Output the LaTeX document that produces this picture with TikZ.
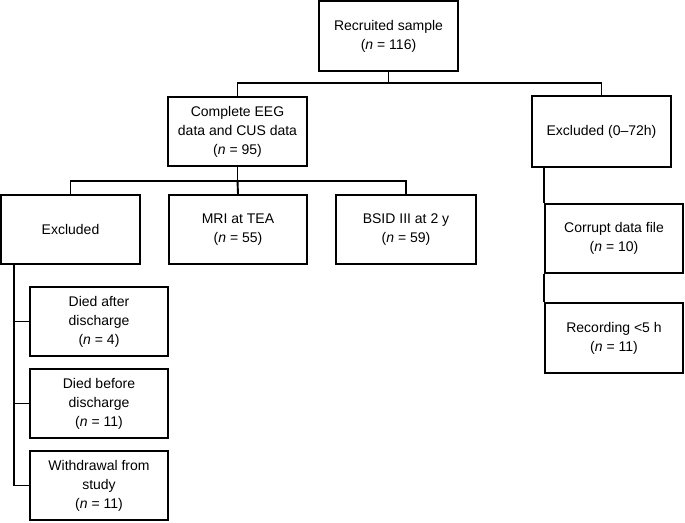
\documentclass[tikz,border=0pt]{standalone}
\usepackage{fontspec}
\setmainfont{Liberation Sans}
\usetikzlibrary{calc}
\begin{document}
\begin{tikzpicture}[x=1pt,y=1pt,
  box/.style={draw,line width=1.9pt,inner sep=0pt,align=center,minimum height=69pt,
    font=\fontsize{14}{19}\selectfont},
  link/.style={line width=1.9pt}]
\useasboundingbox (0,0) rectangle (685,-522);
\node[box,minimum width=139pt,minimum height=70pt] (top) at (388.5,-36) {Recruited sample\\(\textit{n} = 116)};
\node[box,minimum width=139pt] (eeg) at (237.5,-131.5) {Complete EEG\\data and CUS data\\(\textit{n} = 95)};
\node[box,minimum width=139pt,minimum height=71pt] (exr) at (601.5,-131.5) {Excluded (0–72h)};
\node[box,minimum width=139pt] (exl) at (70.5,-229.5) {Excluded};
\node[box,minimum width=138pt] (mri) at (238,-229.5) {MRI at TEA\\(\textit{n} = 55)};
\node[box,minimum width=140pt] (bsid) at (406,-229.5) {BSID III at 2 y\\(\textit{n} = 59)};
\node[box,minimum width=138pt] (da) at (99,-321.5) {Died after\\discharge\\(\textit{n} = 4)};
\node[box,minimum width=138pt] (db) at (99,-403.5) {Died before\\discharge\\(\textit{n} = 11)};
\node[box,minimum width=138pt] (wd) at (99,-485.5) {Withdrawal from\\study\\(\textit{n} = 11)};
\node[box,minimum width=138pt] (cor) at (614,-238.5) {Corrupt data file\\(\textit{n} = 10)};
\node[box,minimum width=138pt,minimum height=70pt] (rec) at (614,-338) {Recording \textless5 h\\(\textit{n} = 11)};
% connectors
\draw[link] (top.south) -- ++(0,-11) coordinate (h1);
\draw[link] (eeg.north) |- (h1) -| (exr.north);
\draw[link] (eeg.south) -- ++(0,-14) coordinate (h2);
\draw[link] (h2) -- (mri.north);
\draw[link] (exl.north) |- (h2) -| (bsid.north);
\coordinate (v1) at ($(exl.south west)+(14,0)$);
\draw[link] (v1) |- (wd.west);
\draw[link] (v1 |- da.west) -- (da.west);
\draw[link] (v1 |- db.west) -- (db.west);
\draw[link] (exr.south -| cor.west) -- (cor.north west);
\draw[link] (cor.south west) -- (rec.north west);
\end{tikzpicture}
\end{document}
